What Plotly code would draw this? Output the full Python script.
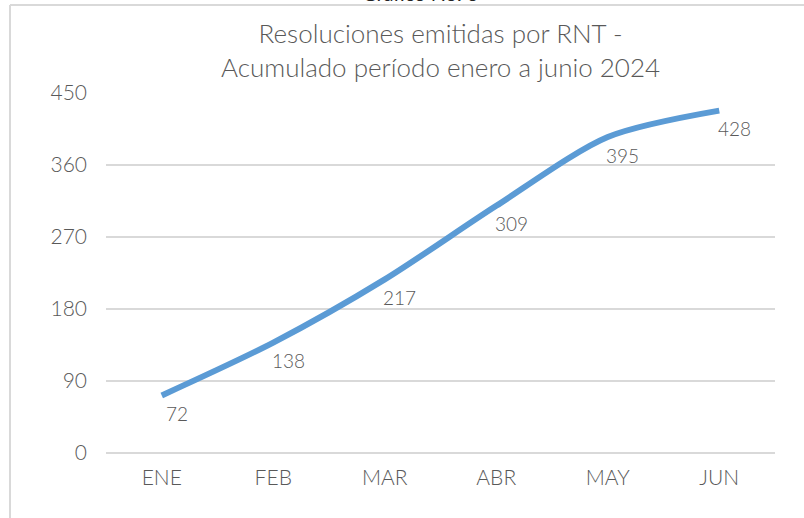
import plotly.graph_objects as go

months = ["ENE", "FEB", "MAR", "ABR", "MAY", "JUN"]
values = [72, 138, 217, 309, 395, 428]
y_ticks = [0, 90, 180, 270, 360, 450]

title_text = "Resoluciones emitidas por RNT -<br>Acumulado período enero a junio 2024"
caption_text = "Gráfico No. 6"

FONT = "Lato"
TEXT = "#595959"
GRID = "#d9d9d9"
LINE = "#5b9bd5"

fig = go.Figure()
fig.add_trace(go.Scatter(
    x=months, y=values, mode="lines",
    line=dict(color=LINE, width=6, shape="spline", smoothing=0.8),
    hoverinfo="x+y", showlegend=False,
))

for m, v in zip(months, values):
    fig.add_annotation(
        x=m, y=v, text=str(v), showarrow=False,
        xshift=15, yshift=-18,
        font=dict(family=FONT, size=19, color=TEXT, weight=300),
    )

fig.add_annotation(
    xref="paper", yref="paper", x=0.5, y=1.119, text=title_text,
    showarrow=False, xanchor="center", yanchor="middle",
    font=dict(family=FONT, size=26, color=TEXT, weight=300),
)

fig.add_annotation(
    xref="paper", yref="paper", x=0.47, y=1.2444, text=caption_text,
    showarrow=False, xanchor="center", yanchor="bottom", yshift=-2,
    font=dict(family=FONT, size=20, color="#222222"),
)

# outer border of the embedded chart
fig.add_shape(type="line", xref="paper", yref="paper",
              x0=-0.1435, x1=-0.1435, y0=1.2444, y1=-0.19,
              line=dict(color=GRID, width=2))
fig.add_shape(type="line", xref="paper", yref="paper",
              x0=-0.1435, x1=1.05, y0=1.2444, y1=1.2444,
              line=dict(color=GRID, width=2))

fig.update_layout(
    width=804, height=518,
    margin=dict(l=106, r=29, t=93, b=65),
    paper_bgcolor="white", plot_bgcolor="white",
    font=dict(family=FONT, color=TEXT),
    xaxis=dict(
        type="category", range=[-0.5, 5.5],
        showgrid=False, zeroline=False, showline=False,
        ticks="", tickfont=dict(family=FONT, size=21, color=TEXT, weight=300),
        ticklabelstandoff=10,
    ),
    yaxis=dict(
        range=[0, 450], tickvals=y_ticks,
        showgrid=True, gridcolor=GRID, gridwidth=2,
        zeroline=True, zerolinecolor=GRID, zerolinewidth=2,
        showline=False, ticks="",
        tickfont=dict(family=FONT, size=21, color=TEXT, weight=300),
        ticklabelstandoff=18,
    ),
)

fig.write_html("out.html", config={"displayModeBar": False},
               post_script="document.body.style.margin='0';")
